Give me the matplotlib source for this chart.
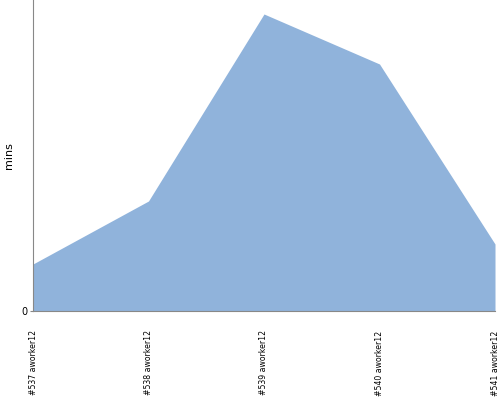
import matplotlib
matplotlib.use("Agg")
import matplotlib.pyplot as plt

builds = ["#537 aworker12", "#538 aworker12", "#539 aworker12", "#540 aworker12", "#541 aworker12"]
mins = [47, 110, 297, 247, 67]

fig = plt.figure(figsize=(5, 4), dpi=100)
ax = fig.add_axes([0.066, 0.2225, 0.924, 0.7775])

x = range(len(builds))
ax.fill_between(x, mins, 0, color="#90b3db", linewidth=0)
ax.set_xlim(0, len(builds) - 1)
ax.set_ylim(0, 311)

ax.set_xticks(list(x))
ax.set_xticklabels(builds, rotation=90, fontsize=5.6)
ax.tick_params(axis="x", length=0, pad=14)
ax.set_yticks([0])
ax.set_yticklabels(["0"], fontsize=7)
ax.tick_params(axis="y", length=2, color="#888888", pad=2)
ax.set_ylabel("mins", fontsize=8, labelpad=5)

for s in ["top", "right"]:
    ax.spines[s].set_visible(False)
for s in ["left", "bottom"]:
    ax.spines[s].set_color("#888888")
    ax.spines[s].set_linewidth(0.8)

fig.savefig("out.png", dpi=100)
